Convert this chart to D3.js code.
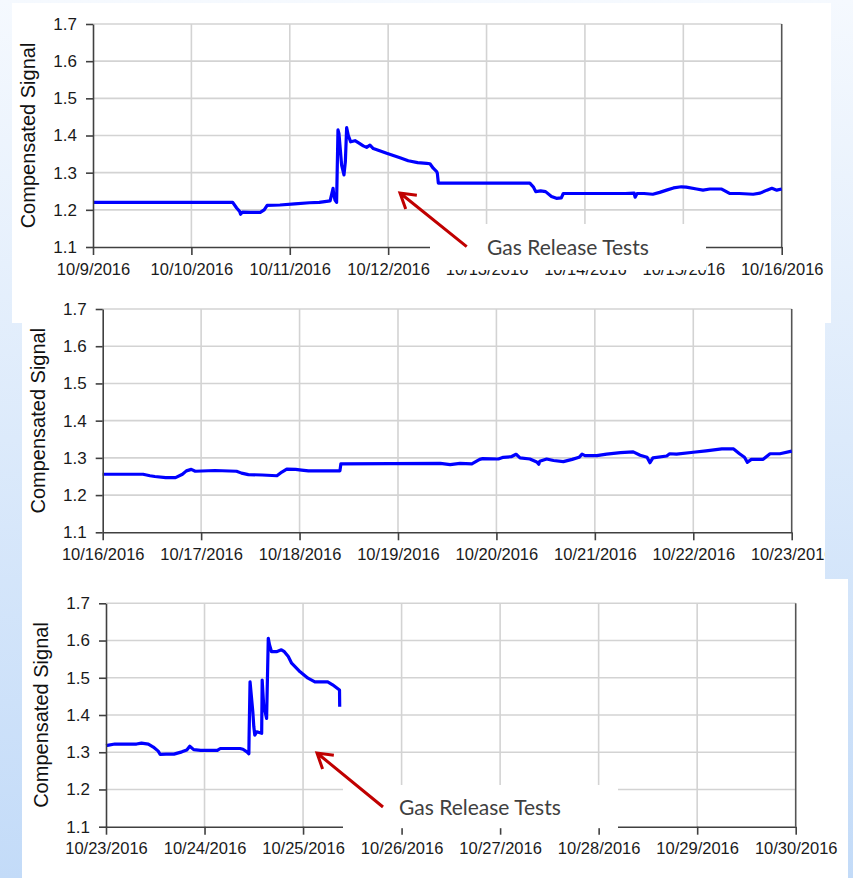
<!DOCTYPE html>
<html>
<head>
<meta charset="utf-8">
<script src="https://cdn.jsdelivr.net/npm/d3@7"></script>
<style>
  body { margin: 0; background: #ffffff; }
  svg { display: block; }
</style>
</head>
<body>
<svg id="chart" width="853" height="878"></svg>
<script>
// Compensated signal readings, three consecutive weeks of October 2016.
// Time is given as day of October (fractional part = time of day).
const yTickValues = [1.1, 1.2, 1.3, 1.4, 1.5, 1.6, 1.7];
const yTitle = "Compensated Signal";
const noteText = "Gas Release Tests";

const week1Days = [9, 10.42, 10.46, 10.49, 10.50, 10.52, 10.60, 10.70, 10.74, 10.77, 10.90, 11.05, 11.20, 11.30, 11.41,
  11.44, 11.445, 11.46, 11.476, 11.49, 11.50, 11.527, 11.551, 11.565, 11.578, 11.595, 11.619, 11.663, 11.70, 11.747,
  11.781, 11.815, 11.849, 11.985, 12.12, 12.204, 12.30, 12.391, 12.425, 12.458, 12.493, 12.50, 12.51, 13.44, 13.475,
  13.50, 13.55, 13.60, 13.66, 13.71, 13.76, 13.78, 14.41, 14.50, 14.51, 14.53, 14.60, 14.69, 14.76, 14.83, 14.90,
  14.98, 15.03, 15.135, 15.20, 15.27, 15.39, 15.47, 15.57, 15.71, 15.78, 15.85, 15.90, 15.95, 16.0];
const week1Values = [1.220, 1.220, 1.205, 1.196, 1.188, 1.194, 1.193, 1.193, 1.200, 1.212, 1.213, 1.216, 1.219, 1.220, 1.224,
  1.258, 1.245, 1.226, 1.220, 1.415, 1.405, 1.320, 1.294, 1.330, 1.421, 1.400, 1.383, 1.386, 1.380, 1.372,
  1.368, 1.374, 1.365, 1.352, 1.340, 1.332, 1.327, 1.325, 1.324, 1.312, 1.303, 1.298, 1.272, 1.272, 1.262,
  1.249, 1.251, 1.249, 1.236, 1.231, 1.232, 1.244, 1.244, 1.245, 1.234, 1.244, 1.244, 1.242, 1.247, 1.253, 1.259,
  1.262, 1.261, 1.256, 1.253, 1.256, 1.256, 1.244, 1.244, 1.242, 1.245, 1.253, 1.258, 1.253, 1.256];

const week2Days = [16.0, 16.41, 16.48, 16.53, 16.64, 16.74, 16.81, 16.85, 16.90, 16.94, 17.14, 17.36, 17.41, 17.48, 17.62,
  17.77, 17.82, 17.87, 17.96, 18.02, 18.09, 18.41, 18.42, 19.43, 19.53, 19.63, 19.75, 19.83, 19.86, 20.02, 20.07,
  20.15, 20.20, 20.24, 20.34, 20.41, 20.43, 20.44, 20.51, 20.58, 20.68, 20.77, 20.84, 20.87, 20.90, 21.02, 21.12,
  21.26, 21.39, 21.46, 21.53, 21.56, 21.59, 21.73, 21.76, 21.83, 22.00, 22.13, 22.29, 22.41, 22.47, 22.52, 22.55,
  22.59, 22.71, 22.78, 22.88, 23.0];
const week2Values = [1.256, 1.256, 1.252, 1.250, 1.247, 1.247, 1.256, 1.265, 1.269, 1.264, 1.266, 1.264, 1.259, 1.255, 1.254,
  1.252, 1.262, 1.270, 1.269, 1.267, 1.265, 1.265, 1.284, 1.285, 1.282, 1.285, 1.284, 1.296, 1.298, 1.297, 1.3015,
  1.303, 1.3096, 1.300, 1.297, 1.289, 1.283, 1.291, 1.297, 1.293, 1.290, 1.296, 1.3015, 1.310, 1.306, 1.306, 1.310,
  1.314, 1.316, 1.307, 1.3015, 1.287, 1.300, 1.305, 1.311, 1.310, 1.315, 1.319, 1.324, 1.324, 1.311, 1.3015, 1.288,
  1.296, 1.296, 1.311, 1.311, 1.318];

const week3Days = [23.0, 23.09, 23.31, 23.36, 23.43, 23.48, 23.53, 23.55, 23.61, 23.69, 23.77, 23.82, 23.85, 23.89, 23.96,
  24.13, 24.16, 24.36, 24.39, 24.43, 24.45, 24.452, 24.462, 24.49, 24.50, 24.51, 24.53, 24.58, 24.585, 24.60, 24.615,
  24.63, 24.647, 24.66, 24.68, 24.73, 24.78, 24.81, 24.85, 24.884, 24.97, 25.05, 25.12, 25.25, 25.30, 25.37, 25.372];
const week3Values = [1.3176, 1.322, 1.322, 1.3245, 1.322, 1.314, 1.303, 1.294, 1.295, 1.295, 1.301, 1.306, 1.316, 1.307, 1.305,
  1.305, 1.310, 1.310, 1.308, 1.301, 1.296, 1.3375, 1.489, 1.409, 1.369, 1.346, 1.355, 1.351, 1.494, 1.427, 1.409,
  1.391, 1.606, 1.588, 1.570, 1.570, 1.575, 1.570, 1.557, 1.539, 1.516, 1.499, 1.489, 1.489, 1.481, 1.467, 1.422];

const dayToDate = d => new Date(Date.UTC(2016, 9, 1) + (d - 1) * 86400000);
const fmt = d3.utcFormat("%-m/%-d/%Y");

const panels = [
  { first: 9, days: week1Days, values: week1Values,
    frame: [12, 3, 831, 323], plot: [93, 781.7, 24, 247], titleX: 35,
    note: { box: [430, 224, 706, 270], text: [487, 255], from: [466.7, 246.7], to: [400, 193] } },
  { first: 16, days: week2Days, values: week2Values,
    frame: [22, 290, 825, 579], plot: [102.7, 791.7, 309, 532.3], titleX: 45 },
  { first: 23, days: week3Days, values: week3Values,
    frame: [22, 579, 848, 878], plot: [106, 795.7, 603.3, 826.7], titleX: 48,
    note: { box: [343, 785, 618, 828.2], text: [399, 815], from: [383, 807], to: [317, 753] } }
];

const svg = d3.select("#chart");
const defs = svg.append("defs");
const grad = defs.append("linearGradient").attr("id", "slideBg")
  .attr("x1", 0).attr("y1", 0).attr("x2", 0).attr("y2", 1);
grad.append("stop").attr("offset", "0%").attr("stop-color", "#f5f9fe");
grad.append("stop").attr("offset", "100%").attr("stop-color", "#c3dbf8");
svg.append("rect").attr("width", 853).attr("height", 878).attr("fill", "url(#slideBg)");

panels.forEach((p, i) => {
  const [fx0, fy0, fx1, fy1] = p.frame;
  const [l, r, t, b] = p.plot;
  defs.append("clipPath").attr("id", "clip" + i)
    .append("rect").attr("x", fx0).attr("y", fy0).attr("width", fx1 - fx0).attr("height", fy1 - fy0);

  const g = svg.append("g").attr("clip-path", `url(#clip${i})`);
  g.append("rect").attr("x", fx0).attr("y", fy0).attr("width", fx1 - fx0).attr("height", fy1 - fy0)
    .attr("fill", "#ffffff");

  const x = d3.scaleUtc().domain([dayToDate(p.first), dayToDate(p.first + 7)]).range([l, r]);
  const y = d3.scaleLinear().domain([1.1, 1.7]).range([b, t]);
  const xTicks = x.ticks(d3.utcDay.every(1));

  // grid
  g.append("g").selectAll("line.hg").data(yTickValues.slice(1)).join("line")
    .attr("x1", l).attr("x2", r).attr("y1", d => y(d)).attr("y2", d => y(d))
    .attr("stroke", "#d3d3d3").attr("stroke-width", 1.6);
  g.append("g").selectAll("line.vg").data(xTicks.slice(1, -1)).join("line")
    .attr("x1", d => x(d)).attr("x2", d => x(d)).attr("y1", t).attr("y2", b)
    .attr("stroke", "#d3d3d3").attr("stroke-width", 1.6);
  g.append("line").attr("x1", r).attr("x2", r).attr("y1", t).attr("y2", b)
    .attr("stroke", "#555").attr("stroke-width", 1.6);

  // series
  const pts = p.days.map((d, k) => [dayToDate(d), p.values[k]]);
  g.append("path").datum(pts)
    .attr("d", d3.line().x(d => x(d[0])).y(d => y(d[1])))
    .attr("fill", "none").attr("stroke", "#0000ff").attr("stroke-width", 3.2)
    .attr("stroke-linejoin", "round");

  // axes
  const xAxis = g.append("g").attr("transform", `translate(0,${b})`)
    .call(d3.axisBottom(x).tickValues(xTicks).tickFormat(fmt).tickSize(8).tickSizeOuter(0).tickPadding(8));
  const yAxis = g.append("g").attr("transform", `translate(${l},0)`)
    .call(d3.axisLeft(y).tickValues(yTickValues).tickFormat(d3.format(".1f")).tickSize(7).tickSizeOuter(0).tickPadding(9));
  [xAxis, yAxis].forEach(a => {
    a.selectAll("path, line").attr("stroke", "#404040").attr("stroke-width", 1.6);
    a.selectAll("text").attr("fill", "#1a1a1a").attr("font-family", "'Liberation Sans', Arial, sans-serif");
  });
  xAxis.selectAll("text").attr("font-size", 16.5);
  yAxis.selectAll("text").attr("font-size", 17);

  g.append("text")
    .attr("transform", `translate(${p.titleX},${(t + b) / 2}) rotate(-90)`)
    .attr("text-anchor", "middle")
    .attr("font-family", "'Liberation Sans', Arial, sans-serif")
    .attr("font-size", 20).attr("fill", "#111")
    .text(yTitle);

  // annotation
  if (p.note) {
    const n = p.note;
    g.append("rect").attr("x", n.box[0]).attr("y", n.box[1])
      .attr("width", n.box[2] - n.box[0]).attr("height", n.box[3] - n.box[1]).attr("fill", "#ffffff");
    g.append("text").attr("x", n.text[0]).attr("y", n.text[1])
      .attr("font-family", "Lato, 'Open Sans', sans-serif").attr("font-size", 21)
      .attr("fill", "#404040").text(noteText);
    const dx = n.from[0] - n.to[0], dy = n.from[1] - n.to[1];
    const len = Math.hypot(dx, dy), ux = dx / len, uy = dy / len;
    const barb = (ang) => {
      const c = Math.cos(ang), s = Math.sin(ang);
      return [n.to[0] + 17 * (ux * c - uy * s), n.to[1] + 17 * (ux * s + uy * c)];
    };
    const b1 = barb(0.55), b2 = barb(-0.55);
    const arrow = d3.path();
    arrow.moveTo(n.from[0], n.from[1]); arrow.lineTo(n.to[0], n.to[1]);
    arrow.moveTo(b1[0], b1[1]); arrow.lineTo(n.to[0], n.to[1]); arrow.lineTo(b2[0], b2[1]);
    g.append("path").attr("d", arrow.toString()).attr("fill", "none")
      .attr("stroke", "#c00000").attr("stroke-width", 3).attr("stroke-linejoin", "miter");
  }
});
</script>
</body>
</html>
